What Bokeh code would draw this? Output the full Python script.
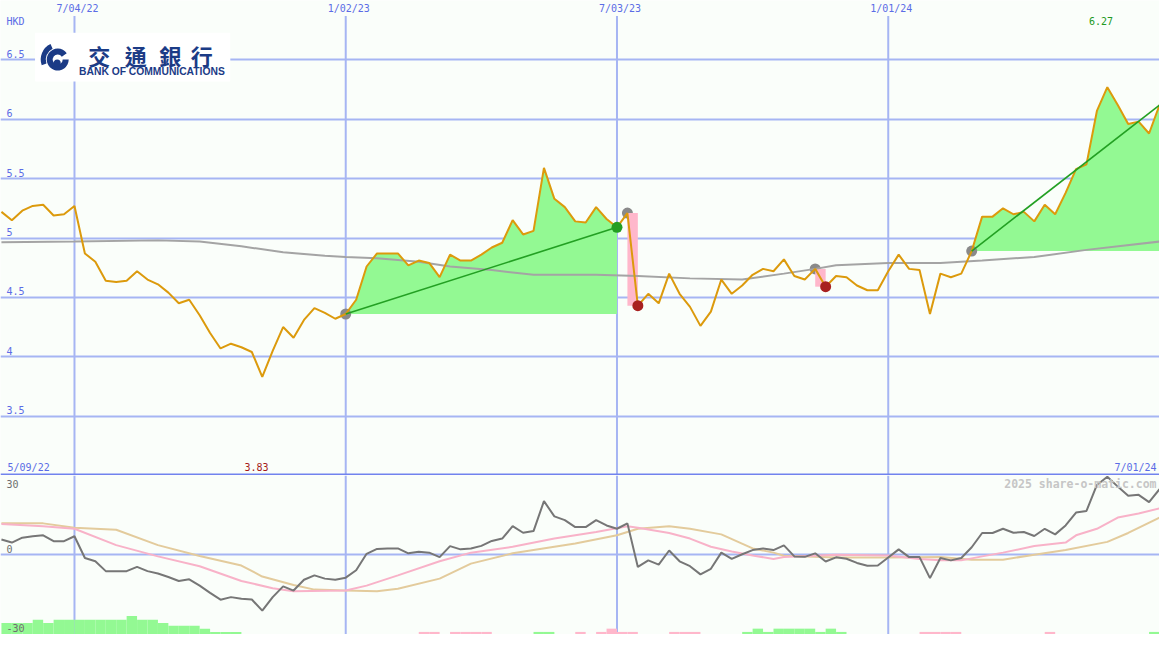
from bokeh.plotting import figure
from bokeh.layouts import column
from bokeh.models import Range1d
from bokeh.core.properties import value
from bokeh.embed import file_html
from bokeh.resources import INLINE

# ---------------- data ----------------
# weekly points; week 0 = 4 Jul 2022, first point is week -7
first_week = -7
price = [
    5.22, 5.15, 5.23, 5.27, 5.28, 5.19, 5.20, 5.27,
    4.87, 4.80, 4.64, 4.63, 4.64, 4.72, 4.65, 4.61, 4.54, 4.45,
    4.48, 4.35, 4.20, 4.07, 4.11, 4.08, 4.04, 3.83, 4.05, 4.25,
    4.16, 4.31, 4.41, 4.37, 4.32, 4.36, 4.48, 4.76, 4.87, 4.87,
    4.87, 4.77, 4.81, 4.79, 4.67, 4.86, 4.81, 4.81, 4.86, 4.92,
    4.96, 5.15, 5.03, 5.06, 5.59, 5.33, 5.26, 5.14, 5.13, 5.26,
    5.16, 5.09, 5.21, 4.43, 4.53, 4.45, 4.70, 4.53, 4.42, 4.26,
    4.38, 4.65, 4.53, 4.60, 4.69, 4.74, 4.72, 4.82, 4.68, 4.65,
    4.74, 4.59, 4.68, 4.67, 4.60, 4.56, 4.56, 4.72, 4.86, 4.74,
    4.73, 4.36, 4.70, 4.67, 4.70, 4.89, 5.18, 5.18, 5.25, 5.20,
    5.22, 5.14, 5.28, 5.20, 5.38, 5.58, 5.62, 6.07, 6.27, 6.12,
    5.96, 5.98, 5.88, 6.12,
]
osc = [
    6.4, 5.1, 7.2, 7.8, 8.2, 5.7, 5.7, 7.8,
    -1.5, -2.9, -7.1, -7.1, -7.1, -5.3, -7.1, -8.1, -9.6, -11.3,
    -10.6, -13.3, -16.4, -19.3, -18.2, -18.9, -19.2, -24.0, -18.2, -13.6,
    -15.4, -10.8, -8.9, -10.3, -10.8, -9.9, -6.7, 0.3, 2.4, 2.6,
    2.6, 0.5, 1.2, 0.8, -1.1, 3.6, 2.2, 2.6, 3.7, 5.8,
    6.8, 12.1, 9.3, 10.0, 22.8, 16.3, 14.7, 11.7, 11.7, 14.7,
    12.4, 11.0, 13.3, -5.3, -2.5, -4.3, 1.7, -2.9, -5.0, -8.5,
    -6.1, 0.8, -1.9, 0.1, 1.9, 2.6, 1.9, 3.9, -0.8, -1.0,
    0.5, -3.0, -1.2, -1.8, -3.6, -4.8, -4.7, -1.3, 2.2, -1.1,
    -1.1, -10.1, -1.5, -2.5, -1.5, 3.1, 9.2, 9.2, 11.0, 9.3,
    9.6, 7.9, 11.0, 8.6, 12.4, 17.9, 18.6, 29.7, 33.2, 29.0,
    25.1, 25.5, 22.4, 27.9,
]
weeks = list(range(first_week, first_week + len(price)))

# long moving average (grey line in the price panel)
ma_weeks = [-7, 0, 8, 12, 16, 20, 24, 26, 29, 33, 36, 40, 44, 50, 54, 59, 64,
            68, 71, 73, 78, 83, 87, 92, 97, 104]
ma_vals = [4.965, 4.97, 4.98, 4.97, 4.93, 4.88, 4.85, 4.84, 4.83, 4.80, 4.76,
           4.73, 4.69, 4.69, 4.68, 4.66, 4.65, 4.70, 4.74, 4.77, 4.79, 4.79,
           4.81, 4.84, 4.90, 4.97]

# smoothed oscillator lines (lower panel)
pink_weeks = [-7, -3, 0, 4, 8, 12, 16, 19, 21, 26, 28, 31, 35, 38, 42, 46, 50,
              53, 54, 57, 59, 61, 63, 65, 67, 68, 73, 78, 81, 83, 85, 87, 89,
              92, 95, 96, 98, 100, 102, 104]
pink_vals = [13.0, 12.1, 11.0, 4.0, -0.8, -5.0, -11.3, -14.4, -15.7, -15.4,
             -13.3, -8.9, -2.9, 0.8, 3.3, 6.8, 9.6, 12.1, 11.4, 9.2, 6.8, 3.3,
             1.25, -0.4, -1.9, -1.1, -0.1, -0.4, -1.9, -2.5, -2.5, -0.8, 0.8,
             3.6, 5.1, 8.2, 11.0, 15.8, 17.5, 19.7]
tan_weeks = [-7, -3, 0, 4, 8, 12, 16, 18, 21, 23, 26, 29, 31, 35, 38, 42, 46,
             48, 52, 54, 57, 59, 62, 65, 67, 68, 73, 78, 83, 86, 89, 92, 95,
             99, 101, 104]
tan_vals = [13.3, 13.3, 11.4, 10.6, 4.0, -0.6, -4.7, -9.4, -13.0, -15.0, -15.4,
            -15.7, -14.6, -10.3, -3.9, 0.5, 3.3, 4.7, 8.2, 11.0, 12.1, 11.0,
            8.6, 2.6, 0.8, -0.5, -1.3, -1.3, -1.1, -2.2, -2.2, -0.1, 1.9, 5.4,
            9.2, 15.8]

# bottom histogram bars (positive = green, negative = pink)
bar_weeks = [-7, -6, -5, -4, -3, -2, -1, 0, 1, 2, 3, 4, 5, 6, 7, 8, 9, 10, 11,
             12, 13, 14, 15, 33, 34, 36, 37, 38, 39, 44, 45, 48, 50, 51, 52, 53,
             57, 58, 59, 64, 65, 66, 67, 68, 69, 70, 71, 72, 73, 81, 82, 83, 84,
             93, 103, 104]
bar_vals = [4.9, 4.9, 4.9, 6.25, 4.9, 6.25, 6.25, 6.25, 6.25, 6.25, 6.25, 6.25,
            7.9, 6.25, 6.25, 4.9, 3.75, 3.75, 3.75, 2.5, 1.1, 1.1, 1.1,
            -1.1, -1.1, -1.1, -1.1, -1.1, -1.1, 1.1, 1.1, -1.1, -1.1, -2.5,
            -1.1, -1.1, -1.1, -1.1, -1.1, 1.1, 2.5, 1.1, 2.5, 2.5, 2.5, 2.5,
            1.1, 2.5, 1.1, -1.1, -1.1, -1.1, -1.1, -1.1, 1.1, 1.1]

# trades: entry week, exit week, still open?
trade_entry = [26, 53, 71, 86]
trade_exit = [52, 54, 72, 104]
trade_open = [False, False, False, True]

grid_weeks = [0, 26, 52, 78]
grid_labels = ["7/04/22", "1/02/23", "7/03/23", "1/01/24"]
price_ticks = [3.5, 4.0, 4.5, 5.0, 5.5, 6.0, 6.5]
price_tick_labels = ["3.5", "4", "4.5", "5", "5.5", "6", "6.5"]
osc_ticks = [30, 0, -30]
osc_tick_labels = ["30", "0", "-30"]
start_label = "5/09/22"
end_label = "7/01/24"
currency = "HKD"
watermark = "2025 share-o-matic.com"
logo_chars = ["交", "通", "銀", "行"]
logo_en = "BANK OF COMMUNICATIONS"

# ---------------- styling ----------------
W = 1159
H_TOP = 475
H_BOT = 159
X0, X1 = -7.09, 104.0
Y0, Y1 = 3.0, 7.0
O0, O1 = -34.17, 33.75
BG = "#FAFEFA"
GRID = "#A6B5F3"
SEP = "#7183EE"
LBL = "#5B6CE6"
ORANGE = "#DC9A0C"
MA_C = "#A4A4A4"
GFILL = "#93F993"
PFILL = "#FFB7CB"
GLINE = "#23A023"
GDOT = "#239E23"
RDOT = "#A82020"
EDOT = "#8A8A8A"
NAVY = "#1B3B86"
MONO = value("DejaVu Sans Mono")

px_per_week = W / (X1 - X0)
px_per_hkd = H_TOP / (Y1 - Y0)


def wx(px_ref):
    # reference pixel column -> week coordinate
    return X0 + px_ref * (X1 - X0) / 1175.0


def py(px_ref):
    # reference pixel row (top panel) -> price coordinate
    return Y1 - px_ref * (Y1 - Y0) / 487.0


def idx(w):
    return w - first_week


xr = Range1d(X0, X1)

top = figure(width=W, height=H_TOP, x_range=xr, y_range=Range1d(Y0, Y1),
             output_backend="svg", toolbar_location=None,
             x_axis_location=None, y_axis_location=None,
             min_border=0, min_border_left=0, min_border_right=0,
             min_border_top=0, min_border_bottom=0,
             background_fill_color=BG, border_fill_color=BG,
             outline_line_color=None)
top.xgrid.visible = False
top.ygrid.visible = False

# grid
top.hspan(y=price_ticks, line_color=GRID, line_width=2)
top.segment(x0=grid_weeks, y0=[Y0] * len(grid_weeks), x1=grid_weeks,
            y1=[py(16)] * len(grid_weeks), line_color=GRID, line_width=2)

# logo block
top.quad(left=[wx(35)], right=[wx(233)], bottom=[py(83)], top=[py(33)],
         fill_color="#FFFFFF", line_color=None)
top.annular_wedge(x=[wx(58)], y=[py(60.5)], inner_radius=5, outer_radius=11,
                  inner_radius_units="screen", outer_radius_units="screen",
                  start_angle=35, end_angle=360, start_angle_units="deg",
                  end_angle_units="deg", fill_color=NAVY, line_color=None)
top.annular_wedge(x=[wx(58)], y=[py(60.5)], inner_radius=12, outer_radius=17,
                  inner_radius_units="screen", outer_radius_units="screen",
                  start_angle=115, end_angle=200, start_angle_units="deg",
                  end_angle_units="deg", fill_color=NAVY, line_color=None)
top.scatter(x=[wx(57.5)], y=[py(64)], size=7, fill_color=NAVY, line_color=None)
top.text(x=[wx(c) for c in (100, 137, 172, 204)], y=[py(56)] * 4, text=logo_chars,
         text_font=value("Noto Sans CJK TC"), text_font_style="bold",
         text_font_size="22px", text_color=NAVY, text_align="center",
         text_baseline="middle")
top.text(x=[wx(153.5)], y=[py(72.5)], text=[logo_en],
         text_font=value("Liberation Sans"), text_font_style="bold",
         text_font_size="10.3px", text_color=NAVY, text_align="center",
         text_baseline="middle")

# trades: fills
entry_x, entry_y, exit_gx, exit_gy, exit_rx, exit_ry = [], [], [], [], [], []
for e, x, is_open in zip(trade_entry, trade_exit, trade_open):
    ep = price[idx(e)]
    xp = price[idx(x)]
    entry_x.append(e)
    entry_y.append(ep)
    if xp >= ep:
        top.varea(x=weeks[idx(e):idx(x) + 1], y1=[ep] * (x - e + 1),
                  y2=price[idx(e):idx(x) + 1], fill_color=GFILL)
        if not is_open:
            exit_gx.append(x)
            exit_gy.append(xp)
    else:
        exit_rx.append(x)
        exit_ry.append(xp)

top.scatter(x=entry_x, y=entry_y, size=11, fill_color=EDOT, line_color=None)

for e, x, is_open in zip(trade_entry, trade_exit, trade_open):
    ep = price[idx(e)]
    xp = price[idx(x)]
    if xp < ep:
        top.quad(left=[e], right=[x], top=[ep], bottom=[xp],
                 fill_color=PFILL, line_color=None)

# moving average and price
top.line(ma_weeks, ma_vals, line_color=MA_C, line_width=2)
top.line(weeks, price, line_color=ORANGE, line_width=2)

for e, x in zip(trade_entry, trade_exit):
    ep = price[idx(e)]
    xp = price[idx(x)]
    if xp >= ep:
        top.line([e, x], [ep, xp], line_color=GLINE, line_width=1.6)

top.scatter(x=exit_gx, y=exit_gy, size=11, fill_color=GDOT, line_color=None)
top.scatter(x=exit_rx, y=exit_ry, size=11, fill_color=RDOT, line_color=None)

# separator line at the bottom of the price panel
top.hspan(y=[Y0 + 1.0 / px_per_hkd], line_color=SEP, line_width=2)

# labels
top.text(x=[wx(6)] * len(price_ticks), y=[t + 6.0 / px_per_hkd for t in price_ticks],
         text=price_tick_labels, text_font=MONO, text_font_size="10px",
         text_color=LBL, text_align="left", text_baseline="middle")
top.text(x=[g + 3.0 / px_per_week for g in grid_weeks], y=[py(8)] * len(grid_weeks),
         text=grid_labels, text_font=MONO, text_font_size="10px",
         text_color=LBL, text_align="center", text_baseline="middle")
top.text(x=[wx(6)], y=[py(21.5)], text=[currency], text_font=MONO,
         text_font_size="10px", text_color=LBL, text_align="left",
         text_baseline="middle")
top.text(x=[wx(28.5)], y=[py(478.5)], text=[start_label], text_font=MONO,
         text_font_size="10px", text_color=LBL, text_align="center",
         text_baseline="middle")
top.text(x=[wx(1172)], y=[py(478.5)], text=[end_label], text_font=MONO,
         text_font_size="10px", text_color=LBL, text_align="right",
         text_baseline="middle")

pmax = max(price)
pmin = min(price)
wmax = weeks[price.index(pmax)]
wmin = weeks[price.index(pmin)]
top.text(x=[wmax - 0.6], y=[py(21.5)], text=["%.2f" % pmax], text_font=MONO,
         text_font_size="10px", text_color="#229922", text_align="center",
         text_baseline="middle")
top.text(x=[wmin - 0.55], y=[py(478.5)], text=["%.2f" % pmin], text_font=MONO,
         text_font_size="10px", text_color="#A51818", text_align="center",
         text_baseline="middle")

# ---------------- lower panel ----------------
bot = figure(width=W, height=H_BOT, x_range=xr, y_range=Range1d(O0, O1),
             output_backend="svg", toolbar_location=None,
             x_axis_location=None, y_axis_location=None,
             min_border=0, min_border_left=0, min_border_right=0,
             min_border_top=0, min_border_bottom=0,
             background_fill_color=BG, border_fill_color=BG,
             outline_line_color=None)
bot.xgrid.visible = False
bot.ygrid.visible = False

bot.segment(x0=grid_weeks, y0=[O0] * len(grid_weeks), x1=grid_weeks,
            y1=[O1] * len(grid_weeks), line_color=GRID, line_width=2)
bot.hspan(y=[0], line_color=GRID, line_width=2)

g_l = [w for w, v in zip(bar_weeks, bar_vals) if v > 0]
g_t = [O0 + v for v in bar_vals if v > 0]
p_l = [w for w, v in zip(bar_weeks, bar_vals) if v < 0]
p_t = [O0 - v for v in bar_vals if v < 0]
bot.quad(left=g_l, right=[w + 1 for w in g_l], bottom=[O0] * len(g_l), top=g_t,
         fill_color=GFILL, line_color=None)
bot.quad(left=p_l, right=[w + 1 for w in p_l], bottom=[O0] * len(p_l), top=p_t,
         fill_color=PFILL, line_color=None)

bot.line(tan_weeks, tan_vals, line_color="#E3CB9C", line_width=2)
bot.line(pink_weeks, pink_vals, line_color="#F8B2C8", line_width=2)
bot.line(weeks, osc, line_color="#767676", line_width=2)

osc_px = H_BOT / (O1 - O0)
bot.text(x=[wx(6)] * 3, y=[30, 0 + 6.0 / osc_px, -30 - 3.0 / osc_px],
         text=osc_tick_labels, text_font=MONO, text_font_size="10px",
         text_color="#6E6E6E", text_align="left", text_baseline="middle")
bot.text(x=[wx(1172)], y=[(568 - 496) / 2.4], text=[watermark], text_font=MONO,
         text_font_style="bold", text_font_size="11.5px", text_color="#C6C6C6",
         text_align="right", text_baseline="middle")

layout = column(top, bot, spacing=0)
open("out.html", "w").write(file_html(layout, INLINE, title="Bank of Communications"))
